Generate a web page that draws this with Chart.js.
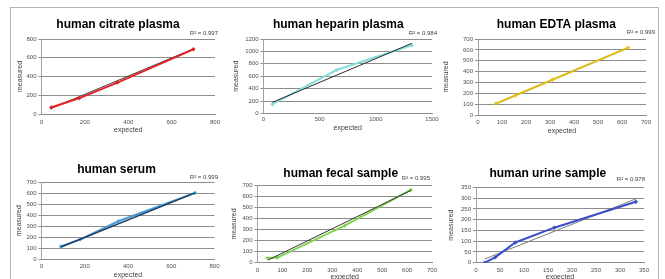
<!DOCTYPE html>
<html><head><meta charset="utf-8">
<script src="https://cdn.jsdelivr.net/npm/chart.js@4.4.1/dist/chart.umd.min.js"></script>
<style>
html,body{margin:0;padding:0;background:#fff;width:665px;height:279px;overflow:hidden;position:relative;}
#frame{position:absolute;left:10px;top:7px;width:649px;height:300px;border:1px solid #b4b4b4;box-sizing:border-box;}
canvas{position:absolute;}
</style></head><body>
<div id="frame"></div>
<canvas id="c1"></canvas><canvas id="c2"></canvas><canvas id="c3"></canvas>
<canvas id="c4"></canvas><canvas id="c5"></canvas><canvas id="c6"></canvas>
<script>
// ---- data ----
const titles = ["human citrate plasma", "human heparin plasma", "human EDTA plasma",
                "human serum", "human fecal sample", "human urine sample"];
const r2Labels = ["R\u00b2 = 0.997", "R\u00b2 = 0.984", "R\u00b2 = 0.999",
                  "R\u00b2 = 0.999", "R\u00b2 = 0.995", "R\u00b2 = 0.978"];
const xAxisTitle = "expected";
const yAxisTitle = "measured";

const citrateExpected = [45, 175, 350, 700];
const citrateMeasured = [70, 170, 335, 690];
const citrateTrendX = [40, 700];
const citrateTrendY = [55, 695];

const heparinExpected = [80, 650, 1320];
const heparinMeasured = [150, 700, 1100];
const heparinTrendX = [80, 1320];
const heparinTrendY = [180, 1130];

const edtaExpected = [75, 155, 310, 625];
const edtaMeasured = [105, 180, 325, 620];
const edtaTrendX = [75, 625];
const edtaTrendY = [103, 618];

const serumExpected = [90, 180, 355, 710];
const serumMeasured = [115, 180, 345, 605];
const serumTrendX = [90, 710];
const serumTrendY = [110, 605];

const fecalExpected = [40, 80, 350, 615];
const fecalMeasured = [40, 45, 335, 660];
const fecalTrendX = [42, 615];
const fecalTrendY = [22, 655];

const urineExpected = [18, 40, 82, 163, 333];
const urineMeasured = [0, 25, 94, 163, 284];
const urineTrendX = [18, 333];
const urineTrendY = [17, 297];

const xMaxes = [800, 1500, 700, 800, 700, 350];
const xSteps = [200, 500, 100, 200, 100, 50];
const yMaxes = [800, 1200, 700, 700, 700, 350];
const ySteps = [100, 200, 100, 100, 100, 50];

// ---- styling / layout ----
const FONT = '"Liberation Sans", Arial, sans-serif';
const panels = [
  {id:'c1', cl:17,  top:9,   tc:118,   titleY:25,    pL:41.5,  pR:215, pT:39,    pB:114,   tickY:122,   expY:130,   dx:3,   dy:-6,
   color:'#e32228', lineColor:'#e32228', trend:'#3a3a3a', trendW:1, trendOnTop:false, ex:citrateExpected, me:citrateMeasured, tx:citrateTrendX, ty:citrateTrendY},
  {id:'c2', cl:233, top:9,   tc:338.3, titleY:25,    pL:263.5, pR:432, pT:39,    pB:113.5, tickY:119.5, expY:128.5, dx:5,   dy:-6,
   color:'#86dcdc', lineColor:'#86dcdc', trend:'#2a2a2a', trendW:1, trendOnTop:true, ex:heparinExpected, me:heparinMeasured, tx:heparinTrendX, ty:heparinTrendY},
  {id:'c3', cl:443, top:9,   tc:556.3, titleY:25,    pL:478,   pR:646, pT:39,    pB:115,   tickY:122.5, expY:131.5, dx:9,   dy:-6.7,
   color:'#e8c21a', lineColor:'#e0bb1c', trend:'#555555', trendW:1, trendOnTop:false, ex:edtaExpected, me:edtaMeasured, tx:edtaTrendX, ty:edtaTrendY},
  {id:'c4', cl:16,  top:150, tc:116.5, titleY:169.3, pL:41.5,  pR:214.5, pT:182.5, pB:259, tickY:266.7, expY:275,   dx:3.5, dy:-5,
   color:'#45a6e0', lineColor:'#4a9ad2', trend:'#1d3f66', trendW:1.5, trendOnTop:true, ex:serumExpected, me:serumMeasured, tx:serumTrendX, ty:serumTrendY},
  {id:'c5', cl:231, top:150, tc:340.7, titleY:173.3, pL:257.5, pR:432, pT:185.5, pB:262.5, tickY:270,   expY:277,   dx:-2,  dy:-7.5,
   color:'#7cd64e', lineColor:'#7cd64e', trend:'#333333', trendW:1, trendOnTop:true, ex:fecalExpected, me:fecalMeasured, tx:fecalTrendX, ty:fecalTrendY},
  {id:'c6', cl:448, top:150, tc:547.8, titleY:173.3, pL:476,   pR:644, pT:187.5, pB:262.7, tickY:270,   expY:277,   dx:1,   dy:-8.5,
   color:'#3a4fc8', lineColor:'#3a4fc8', trend:'#7a7a7a', trendW:1, trendOnTop:false, ex:urineExpected, me:urineMeasured, tx:urineTrendX, ty:urineTrendY}
];

const r2Plugin = {
  id: 'r2label',
  afterDraw(chart, args, opts) {
    const {ctx, chartArea} = chart;
    ctx.save();
    ctx.font = '6px ' + FONT;
    ctx.fillStyle = '#404040';
    ctx.textAlign = 'right';
    ctx.textBaseline = 'middle';
    ctx.fillText(opts.text, chartArea.right + opts.dx, chartArea.top + opts.dy);
    ctx.restore();
  }
};

const toPts = (xs, ys) => xs.map((x, i) => ({x: x, y: ys[i]}));

panels.forEach((p, i) => {
  const canvasBottom = p.expY + 3.5;
  const boxRight = 2 * p.tc - p.cl;
  const canvasRight = Math.ceil(Math.max(boxRight, p.pR + 7));
  const W = canvasRight - p.cl;
  const H = Math.ceil(canvasBottom - p.top);
  const padRight = canvasRight - boxRight;
  const xPadR = canvasRight - p.pR;
  const cv = document.getElementById(p.id);
  cv.width = W; cv.height = H;
  cv.style.left = p.cl + 'px'; cv.style.top = p.top + 'px';
  cv.style.width = W + 'px'; cv.style.height = H + 'px';
  const titlePadTop = p.titleY - 6 - p.top;
  const titlePadBottom = p.pT - p.titleY - 6;
  const xHeight = (p.top + H) - p.pB;
  const yWidth = p.pL - p.cl;
  const tickPad = p.tickY - 3.6 - p.pB;

  new Chart(cv, {
    type: 'scatter',
    data: {
      datasets: [
        {data: toPts(p.ex, p.me), showLine: true, borderColor: p.lineColor, backgroundColor: p.color,
         borderWidth: 2, pointRadius: 2.2, pointStyle: 'rectRot', pointBorderWidth: 0, pointBackgroundColor: p.color,
         tension: 0, order: p.trendOnTop ? 1 : 0},
        {data: toPts(p.tx, p.ty), showLine: true, borderColor: p.trend, borderWidth: p.trendW, pointRadius: 0,
         order: p.trendOnTop ? 0 : 1}
      ]
    },
    options: {
      responsive: false, animation: false, devicePixelRatio: 1, events: [],
      layout: {padding: {left: 0, right: padRight, top: 0, bottom: 0}},
      plugins: {
        legend: {display: false}, tooltip: {enabled: false},
        title: {display: true, text: titles[i], color: '#000',
                font: {family: FONT, size: 12, weight: 'bold', lineHeight: 1},
                padding: {top: titlePadTop, bottom: titlePadBottom}},
        r2label: {text: r2Labels[i], dx: p.dx, dy: p.dy}
      },
      scales: {
        x: {
          type: 'linear', min: 0, max: xMaxes[i],
          ticks: {stepSize: xSteps[i], autoSkip: false, maxRotation: 0, color: '#505050',
                  font: {family: FONT, size: 6}, padding: tickPad, callback: v => String(v)},
          grid: {display: false, drawTicks: false},
          border: {display: true, color: '#8c8c8c', width: 1},
          title: {display: true, text: xAxisTitle, color: '#404040',
                  font: {family: FONT, size: 7, lineHeight: 1}, padding: 0},
          afterFit(s) { s.height = xHeight; s.paddingLeft = 0; s.paddingRight = xPadR; }
        },
        y: {
          type: 'linear', min: 0, max: yMaxes[i],
          ticks: {stepSize: ySteps[i], color: '#505050', font: {family: FONT, size: 6}, padding: 2,
                  callback: v => String(v)},
          grid: {color: '#8c8c8c', lineWidth: 1, drawTicks: true, tickLength: 3, tickColor: '#8c8c8c'},
          border: {display: true, color: '#a0a0a0', width: 1},
          title: {display: true, text: yAxisTitle, color: '#404040',
                  font: {family: FONT, size: 7, lineHeight: 1}, padding: 0},
          afterFit(s) { s.width = yWidth; s.paddingTop = 0; s.paddingBottom = 0; }
        }
      }
    },
    plugins: [r2Plugin]
  });
});
</script>
</body></html>
